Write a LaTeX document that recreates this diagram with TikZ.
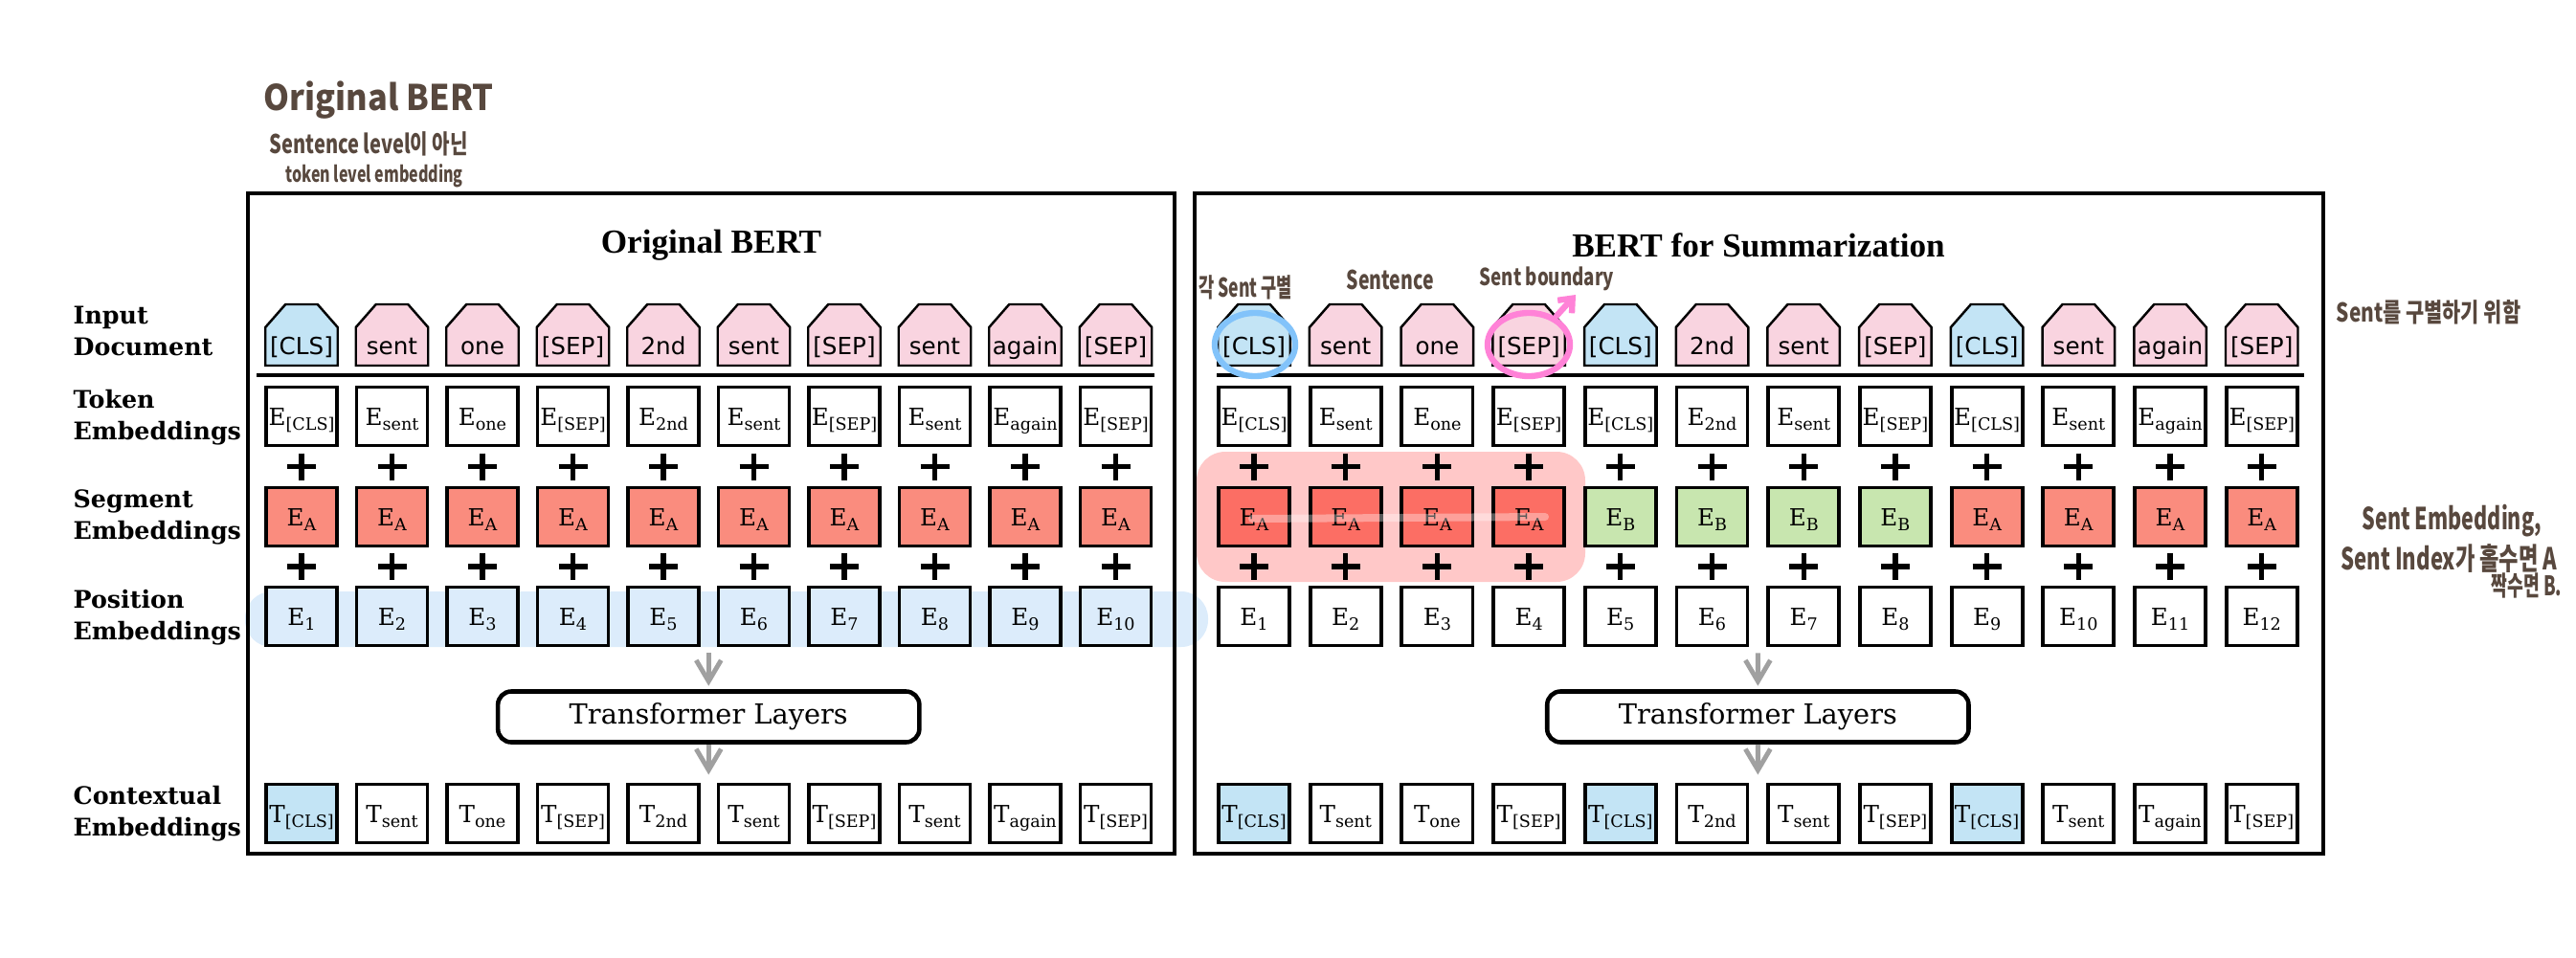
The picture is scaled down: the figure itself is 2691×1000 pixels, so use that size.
\documentclass[tikz,border=0pt]{standalone}
\usepackage{fontspec}
\setmainfont{DejaVu Serif}
\newfontfamily\tokenfont{DejaVu Sans}
\newfontfamily\titlefont{Liberation Serif}
\newfontfamily\penfont{Noto Sans CJK KR}
\usepackage{graphicx}
\usepackage{tikz}
\usetikzlibrary{calc}
\usetikzlibrary{arrows.meta}

\definecolor{clsblue}{RGB}{195,228,245}
\definecolor{sentpink}{RGB}{249,212,224}
\definecolor{segsalmon}{RGB}{250,140,126}
\definecolor{seggreen}{RGB}{200,230,175}
\definecolor{segred}{RGB}{252,110,100}
\definecolor{posblue}{RGB}{220,236,251}
\definecolor{markred}{RGB}{255,200,200}
\definecolor{flowgray}{RGB}{160,160,160}
\definecolor{penbrown}{RGB}{88,72,62}
\definecolor{penblue}{RGB}{130,195,250}
\definecolor{penpink}{RGB}{255,130,215}

\tikzset{
  every node/.style = {font = \fontsize{7pt}{8.4pt}\selectfont}
}
\tikzset{
  panel/.style = {draw, line width=1.4pt},
  panel title/.style = {font=\titlefont\bfseries\fontsize{10pt}{12pt}\selectfont},
  row label/.style = {anchor=west, align=left, inner sep=0pt,
    font=\bfseries\fontsize{7.2pt}{9.4pt}\selectfont},
  token shape/.style = {draw, line width=0.7pt},
  token text/.style = {inner sep=0pt, text height=1.75mm, text depth=0mm,
    font=\tokenfont\fontsize{7pt}{8pt}\selectfont},
  emb box/.style = {draw, fill=white, line width=1.1pt,
    minimum width=7.4mm, minimum height=6.1mm, inner sep=0pt,
    text height=1.8mm, text depth=0mm},
  layers box/.style = {draw, fill=white, rounded corners=1.4mm, line width=1.3pt,
    minimum width=4.4cm, minimum height=5.3mm,
    font=\fontsize{8.2pt}{10pt}\selectfont},
  flow/.style = {draw=flowgray, line width=1.4pt,
    -{Straight Barb[length=2.2mm, width=2.6mm]}},
  plus sign/.style = {line width=1.5pt},
  pen note/.style = {text=penbrown, inner sep=0pt,
    font=\penfont\bfseries\fontsize{#1}{#1}\selectfont},
  pen line/.style = {line width=1.8pt, line cap=round}
}
\newcommand{\emb}[2]{#1\raisebox{-1.7pt}{\fontsize{5pt}{6pt}\selectfont #2}}

\begin{document}
\begin{tikzpicture}[x=0.01cm, y=-0.01cm]
  \useasboundingbox (0,0) rectangle (2691,1000);

  % highlighter marks
  \fill[posblue, rounded corners=2.8mm] (256,618) rectangle (1262,676);
  \fill[markred, rounded corners=3mm] (1250,472) rectangle (1656,608);

  \draw[panel] (259,202) rectangle (1227,892);
  \draw[panel] (1248,202) rectangle (2427,892);
  \node[panel title] (ltitle) at (743,256) {Original BERT};
  \node[panel title] (rtitle) at (1837,256) {BERT for Summarization};

  \node[row label] (linput) at (76,346) {Input\\Document};
  \node[row label] (ltoken) at (76,436) {Token\\Embeddings};
  \node[row label] (lsegment) at (76,540) {Segment\\Embeddings};
  \node[row label] (lposition) at (76,645) {Position\\Embeddings};
  \node[row label] (lcontext) at (76,850) {Contextual\\Embeddings};

  \draw[line width=1.1pt] (268,392) -- (1206,392);
  \draw[line width=1.1pt] (1271,392) -- (2407,392);

  % original BERT
  \foreach \w/\c/\t [count=\i] in {{[CLS]}/clsblue/clsblue, sent/sentpink/white,
      one/sentpink/white, {[SEP]}/sentpink/white, 2nd/sentpink/white,
      sent/sentpink/white, {[SEP]}/sentpink/white, sent/sentpink/white,
      again/sentpink/white, {[SEP]}/sentpink/white} {
    \pgfmathsetmacro{\x}{315+94.5*(\i-1)}
    \filldraw[token shape, fill=\c] (\x-37.75,382) -- ++(0,-40) -- ++(21,-24)
      -- ++(33.5,0) -- ++(21,24) -- ++(0,40) -- cycle;
    \node[token text] (li\i) at (\x,362) {\w};
    \node[emb box] (lt\i) at (\x,435) {\emb{E}{\w}};
    \node[emb box, fill=segsalmon] (ls\i) at (\x,540) {\emb{E}{A}};
    \node[emb box, fill=posblue] (lp\i) at (\x,644) {\emb{E}{\i}};
    \node[emb box, fill=\t] (lc\i) at (\x,850) {\emb{T}{\w}};
    \draw[plus sign] ($(lt\i.south)!.5!(ls\i.north)$) +(-15,0) -- +(15,0) +(0,-14) -- +(0,14);
    \draw[plus sign] ($(ls\i.south)!.5!(lp\i.north)$) +(-15,0) -- +(15,0) +(0,-14) -- +(0,14);
  }

  % BERT for summarization
  \foreach \w/\c/\s/\f/\t [count=\i] in {{[CLS]}/clsblue/A/segred/clsblue,
      sent/sentpink/A/segred/white, one/sentpink/A/segred/white,
      {[SEP]}/sentpink/A/segred/white, {[CLS]}/clsblue/B/seggreen/clsblue,
      2nd/sentpink/B/seggreen/white, sent/sentpink/B/seggreen/white,
      {[SEP]}/sentpink/B/seggreen/white, {[CLS]}/clsblue/A/segsalmon/clsblue,
      sent/sentpink/A/segsalmon/white, again/sentpink/A/segsalmon/white,
      {[SEP]}/sentpink/A/segsalmon/white} {
    \pgfmathsetmacro{\x}{1310+95.7*(\i-1)}
    \filldraw[token shape, fill=\c] (\x-37.75,382) -- ++(0,-40) -- ++(21,-24)
      -- ++(33.5,0) -- ++(21,24) -- ++(0,40) -- cycle;
    \node[token text] (ri\i) at (\x,362) {\w};
    \node[emb box] (rt\i) at (\x,435) {\emb{E}{\w}};
    \node[emb box, fill=\f] (rs\i) at (\x,540) {\emb{E}{\s}};
    \node[emb box] (rp\i) at (\x,644) {\emb{E}{\i}};
    \node[emb box, fill=\t] (rc\i) at (\x,850) {\emb{T}{\w}};
    \draw[plus sign] ($(rt\i.south)!.5!(rs\i.north)$) +(-15,0) -- +(15,0) +(0,-14) -- +(0,14);
    \draw[plus sign] ($(rs\i.south)!.5!(rp\i.north)$) +(-15,0) -- +(15,0) +(0,-14) -- +(0,14);
  }

  \node[layers box] (ltf) at (740.25,749) {Transformer Layers};
  \node[layers box] (rtf) at (1836.35,749) {Transformer Layers};

  \coordinate (lin) at ($(lp5.south)!.5!(lp6.south)$);
  \coordinate (lout) at ($(lc5.north)!.5!(lc6.north)$);
  \coordinate (rin) at ($(rp6.south)!.5!(rp7.south)$);
  \coordinate (rout) at ($(rc6.north)!.5!(rc7.north)$);
  \draw[flow, shorten <=1.7pt, shorten >=1pt] (lin) -- (ltf);
  \draw[flow, shorten >=2.3pt] (ltf) -- (lout);
  \draw[flow, shorten <=1.7pt, shorten >=1pt] (rin) -- (rtf);
  \draw[flow, shorten >=2.3pt] (rtf) -- (rout);

  % pen marks
  \draw[white, opacity=.35, line width=.8mm, line cap=round] (1308,542) -- (1614,540);
  \draw[pen line, penblue] (1311,360) ellipse [x radius=4.2mm, y radius=3.3mm];
  \draw[pen line, penpink] (1597,360) ellipse [x radius=4.3mm, y radius=3.3mm];
  \draw[pen line, penpink, -{Straight Barb[length=1.2mm, width=2mm]}] (1626,330) -- (1646,308);

  \node[pen note=10.5pt, anchor=base west] (nbert) at (275,115) {\scalebox{0.93}[1]{Original BERT}};
  \node[pen note=7.7pt, anchor=base west] (nlevel) at (281,160) {\scalebox{0.74}[1]{Sentence level이 아닌}};
  \node[pen note=6.5pt, anchor=base west] (ntoken) at (298,190) {\scalebox{0.7}[1]{token level embedding}};
  \node[pen note=7.7pt, anchor=base] (ncls) at (1301,310) {\scalebox{0.65}[1]{각 Sent 구별}};
  \node[pen note=7.7pt, anchor=base west] (nsent) at (1406,302) {\scalebox{0.72}[1]{Sentence}};
  \node[pen note=7pt, anchor=base west] (nsep) at (1545,298) {\scalebox{0.76}[1]{Sent boundary}};
  \node[pen note=7.7pt, anchor=base west] (nsplit) at (2440,336) {\scalebox{0.77}[1]{Sent를 구별하기 위함}};
  \node[pen note=9pt, anchor=base west] (nsega) at (2467,553) {\scalebox{0.68}[1]{Sent Embedding,}};
  \node[pen note=9pt, anchor=base east] (nsegb) at (2672,595) {\scalebox{0.7}[1]{Sent Index가 홀수면 A}};
  \node[pen note=8pt, anchor=base east] (nsegc) at (2677,622) {\scalebox{0.65}[1]{짝수면 B.}};
\end{tikzpicture}
\end{document}
